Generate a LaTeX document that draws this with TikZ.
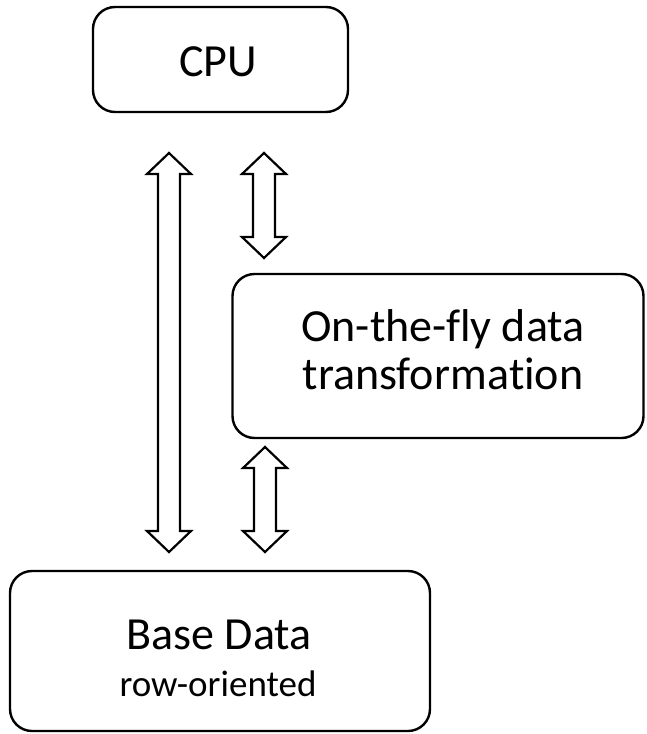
\documentclass[tikz,border=0pt]{standalone}
\usepackage{fontspec}
\setmainfont[Ligatures=NoCommon,RawFeature={-liga;-clig;-calt}]{Carlito}
\begin{document}
\begin{tikzpicture}[x=1pt,y=-1pt,
  box/.style={draw=black, line width=2.4pt, rounded corners=22pt, fill=white,
    inner sep=0pt, outer sep=0pt, rectangle},
  label/.style={anchor=base, inner sep=0pt, font=\fontsize{46}{55}\selectfont},
  sublabel/.style={anchor=base, inner sep=0pt, font=\fontsize{37}{44}\selectfont},
  blockarrow/.style={draw=black, line width=2.2pt, fill=white, line join=miter}]
\useasboundingbox (0,0) rectangle (646,734);

% boxes
\node[box, minimum width=255pt, minimum height=105pt] (cpu) at (220.5,59.5) {};
\node[label] (cpulabel) at (218,76) {CPU};

\node[box, minimum width=411pt, minimum height=164pt] (otf) at (438,356) {};
\node[label] (otfline1) at (443,341) {On-the-f\kern0ptly data};
\node[label] (otfline2) at (443,389) {transforma\kern0pt tion};

\node[box, minimum width=420pt, minimum height=160pt] (base) at (220,651) {};
\node[label] (baselabel) at (219,649) {Base Data};
\node[sublabel] (basesub) at (218,696) {row-oriented};

% hollow double-headed arrows: centre x, top tip y, bottom tip y
\newcommand{\dblarrow}[3]{%
  \draw[blockarrow]
    (#1,#2) -- (#1+22,#2+21) -- (#1+11,#2+21) -- (#1+11,#3-21) -- (#1+22,#3-21)
    -- (#1,#3) -- (#1-22,#3-21) -- (#1-11,#3-21) -- (#1-11,#2+21) -- (#1-22,#2+21)
    -- cycle;}
\dblarrow{169}{153}{552}
\dblarrow{264}{153}{258}
\dblarrow{265}{447}{552}
\end{tikzpicture}
\end{document}
